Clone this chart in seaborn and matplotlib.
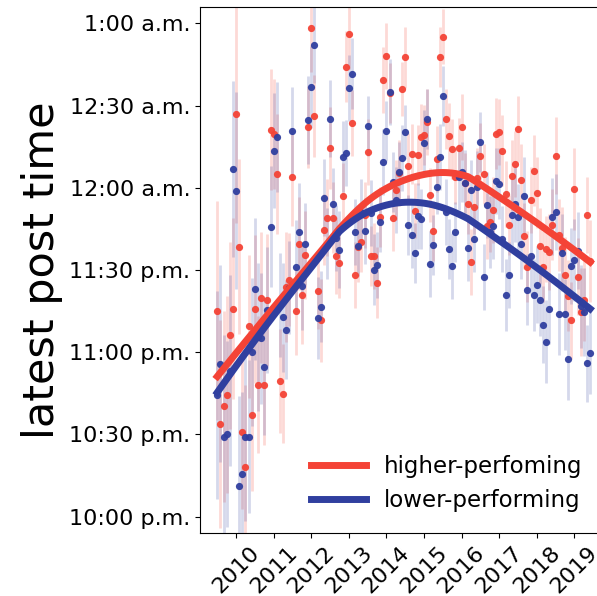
import numpy as np
import pandas as pd
import seaborn as sns
import matplotlib
matplotlib.use("Agg")
import matplotlib.pyplot as plt

# monthly points, July 2009 - June 2019 (minutes relative to midnight)
start_month = "2009-07-01"
n_months = 120

higher_minutes = [
    -44.8, -86.1, -79.8, -75.5, -53.9, -44.2,
    27.0, -21.5, -89.1, -101.8, -50.6, -82.8, -44.1, -71.9, -40.1, -71.9, -40.9, 21.2,
    19.7, 5.1, -70.4, -75.1, -36.1, -33.6, 4.0, -44.9, -20.4, -39.1, -24.5, 22.3,
    58.4, 26.3, -37.6, -48.4, -15.3, -10.9, 14.6, -10.9, -24.8, -27.4, -2.9, 44.2,
    56.2, 23.7, -31.8, -21.5, -19.7, -9.9, 13.1, -24.8, -24.8, -34.7, -10.6, 39.4,
    48.2, 34.7, -10.9, -0.7, 5.5, 36.1, 47.6, 8.0, 12.4, -8.4, 12.0, 18.6,
    19.3, 24.1, -2.6, -15.7, 10.6, 47.8, 55.1, 25.2, 19.0, 14.2, 4.0, 14.6,
    22.3, 1.8, -5.8, -27.0, -6.9, 3.6, 11.7, 5.1, -13.9, -12.4, -8.0, 19.7,
    20.4, 13.5, -2.2, -13.5, 4.4, 8.8, 21.5, 2.9, -17.5, -28.8, -4.4, 6.2,
    -1.8, -21.2, -28.8, -22.3, -23.4, -13.5, 11.7, -17.2, -21.9, -31.8, -39.4, -48.4,
    -0.4, -32.5, -45.3, -40.9, -9.9, -26.6,
]
lower_minutes = [
    -75.5, -64.2, -90.8, -89.8, -66.7, 6.9,
    -1.1, -109.0, -104.4, -90.8, -90.8, -59.9, -36.9, -54.3, -55.0, -65.3, -44.5, -14.2,
    13.5, 18.6, -42.7, -47.3, -51.8, -36.5, 20.8, -28.8, -16.1, -35.8, -20.4, 24.8,
    36.9, 52.2, -47.4, -43.4, -3.6, -20.4, 25.2, -5.8, -18.2, -22.6, 11.3, 12.8,
    36.5, 41.6, -16.1, -21.2, -8.8, -15.7, 22.6, -9.1, -29.9, -28.1, -12.4, 9.5,
    20.8, 35.0, 2.2, -4.4, 5.8, 10.9, 20.4, -13.5, -17.2, -23.7, -10.2, -11.3,
    16.4, 25.2, -27.7, -20.8, 0.4, 11.3, 33.6, -8.8, -22.3, -28.5, -16.1, 4.0,
    5.8, 1.8, -21.9, -0.7, -18.6, 0.4, 16.8, -32.5, -6.2, -16.1, -13.9, 2.6,
    1.5, -18.6, -39.1, -31.8, -9.9, -5.8, -10.6, -20.4, -2.9, -37.2, -24.8, -39.1,
    -35.4, -41.1, -49.9, -56.1, -44.1, -10.6, -8.8, -46.0, -23.7, -46.2, -62.4, -28.5,
    -26.3, -23.0, -43.3, -45.3, -64.1, -60.2,
]

# error bar half-widths (minutes)
higher_err = [
    40, 38, 35, 36, 34, 33,
    40, 32, 28, 30, 26, 28, 27, 25, 24, 22, 24, 22,
    20, 22, 19, 18, 20, 17, 18, 16, 17, 18, 16, 15,
    16, 15, 14, 15, 13, 14, 15, 13, 14, 13, 12, 13,
    13, 12, 12, 13, 11, 12, 12, 11, 12, 13, 11, 12,
    12, 11, 12, 11, 12, 10, 11, 12, 11, 10, 11, 12,
    11, 12, 10, 11, 12, 11, 10, 11, 12, 11, 10, 11,
    12, 11, 11, 12, 10, 11, 12, 11, 12, 11, 12, 13,
    12, 13, 12, 11, 13, 12, 12, 13, 12, 13, 12, 13,
    13, 14, 13, 12, 14, 13, 14, 13, 15, 14, 13, 14,
    15, 14, 16, 15, 14, 15,
]
lower_err = [
    38, 36, 37, 34, 35, 32,
    36, 33, 30, 31, 28, 27, 26, 27, 24, 25, 23, 22,
    21, 20, 19, 20, 18, 17, 16, 17, 18, 16, 15, 16,
    15, 14, 15, 13, 14, 13, 14, 13, 12, 14, 13, 12,
    12, 13, 12, 11, 12, 12, 11, 12, 13, 12, 11, 12,
    11, 12, 11, 12, 11, 12, 10, 11, 12, 11, 12, 11,
    12, 11, 12, 11, 10, 12, 11, 12, 11, 12, 11, 12,
    11, 12, 12, 11, 12, 13, 11, 12, 12, 13, 12, 12,
    13, 12, 13, 12, 13, 14, 12, 13, 14, 13, 14, 13,
    14, 13, 14, 15, 13, 14, 14, 15, 14, 13, 15, 14,
    15, 14, 15, 16, 14, 15,
]

year_ticks = list(range(2010, 2020))
time_ticks = [-120, -90, -60, -30, 0, 30, 60]
time_labels = ["10:00 p.m.", "10:30 p.m.", "11:00 p.m.", "11:30 p.m.",
               "12:00 a.m.", "12:30 a.m.", "1:00 a.m."]

red = "#f44336"
blue = "#303f9f"


def lowess(x, y, frac=2 / 3, it=3):
    # robust local linear fit with tricube weights (statsmodels-style)
    x = np.asarray(x, float)
    y = np.asarray(y, float)
    n = len(x)
    r = int(np.ceil(frac * n))
    rob = np.ones(n)
    out = np.empty(n)
    for _ in range(it + 1):
        for i in range(n):
            d = np.abs(x - x[i])
            h = np.sort(d)[r - 1]
            w = np.clip(1 - (d / h) ** 3, 0, None) ** 3 * rob
            A = np.vstack([np.ones(n), x - x[i]]).T
            sw = np.sqrt(w)
            coef = np.linalg.lstsq(A * sw[:, None], y * sw, rcond=None)[0]
            out[i] = coef[0]
        res = y - out
        s = np.median(np.abs(res))
        rob = np.clip(1 - (res / (6 * s)) ** 2, 0, None) ** 2
    return out


dates = pd.date_range(start_month, periods=n_months, freq="MS")
xdec = (dates.year + (dates.month - 1) / 12).to_numpy(dtype=float)

df = pd.DataFrame({"x": xdec, "higher": higher_minutes, "lower": lower_minutes,
                   "higher_err": higher_err, "lower_err": lower_err})
df["higher_fit"] = lowess(xdec, df["higher"])
df["lower_fit"] = lowess(xdec, df["lower"])

fig = plt.figure(figsize=(5.97, 5.96), dpi=100)
ax = fig.add_axes([200 / 597, 63 / 596, 403 / 597, 526 / 596])

ax.errorbar(df["x"], df["higher"], yerr=df["higher_err"], fmt="none",
            ecolor=red, alpha=0.2, elinewidth=2)
ax.errorbar(df["x"], df["lower"], yerr=df["lower_err"], fmt="none",
            ecolor=blue, alpha=0.2, elinewidth=2)
sns.scatterplot(data=df, x="x", y="higher", color=red, s=27, linewidth=0,
                alpha=0.95, ax=ax, zorder=3)
sns.scatterplot(data=df, x="x", y="lower", color=blue, s=27, linewidth=0,
                alpha=0.95, ax=ax, zorder=3)
sns.lineplot(data=df, x="x", y="higher_fit", color=red, lw=5,
             label="higher-perfoming", ax=ax, zorder=4)
sns.lineplot(data=df, x="x", y="lower_fit", color=blue, lw=5,
             label="lower-performing", ax=ax, zorder=4)

ax.set_xlim(2009.04, 2019.76)
ax.set_ylim(-126, 66)
ax.set_xticks(year_ticks)
ax.set_xticklabels([str(y) for y in year_ticks], rotation=45, fontsize=16)
ax.set_yticks(time_ticks)
ax.set_yticklabels(time_labels, fontsize=16)
ax.set_xlabel("")
ax.set_ylabel("latest post time", fontsize=31)
ax.legend(loc="lower right", frameon=False, fontsize=16.5, handlelength=2.4)

fig.savefig("out.png", dpi=100)
